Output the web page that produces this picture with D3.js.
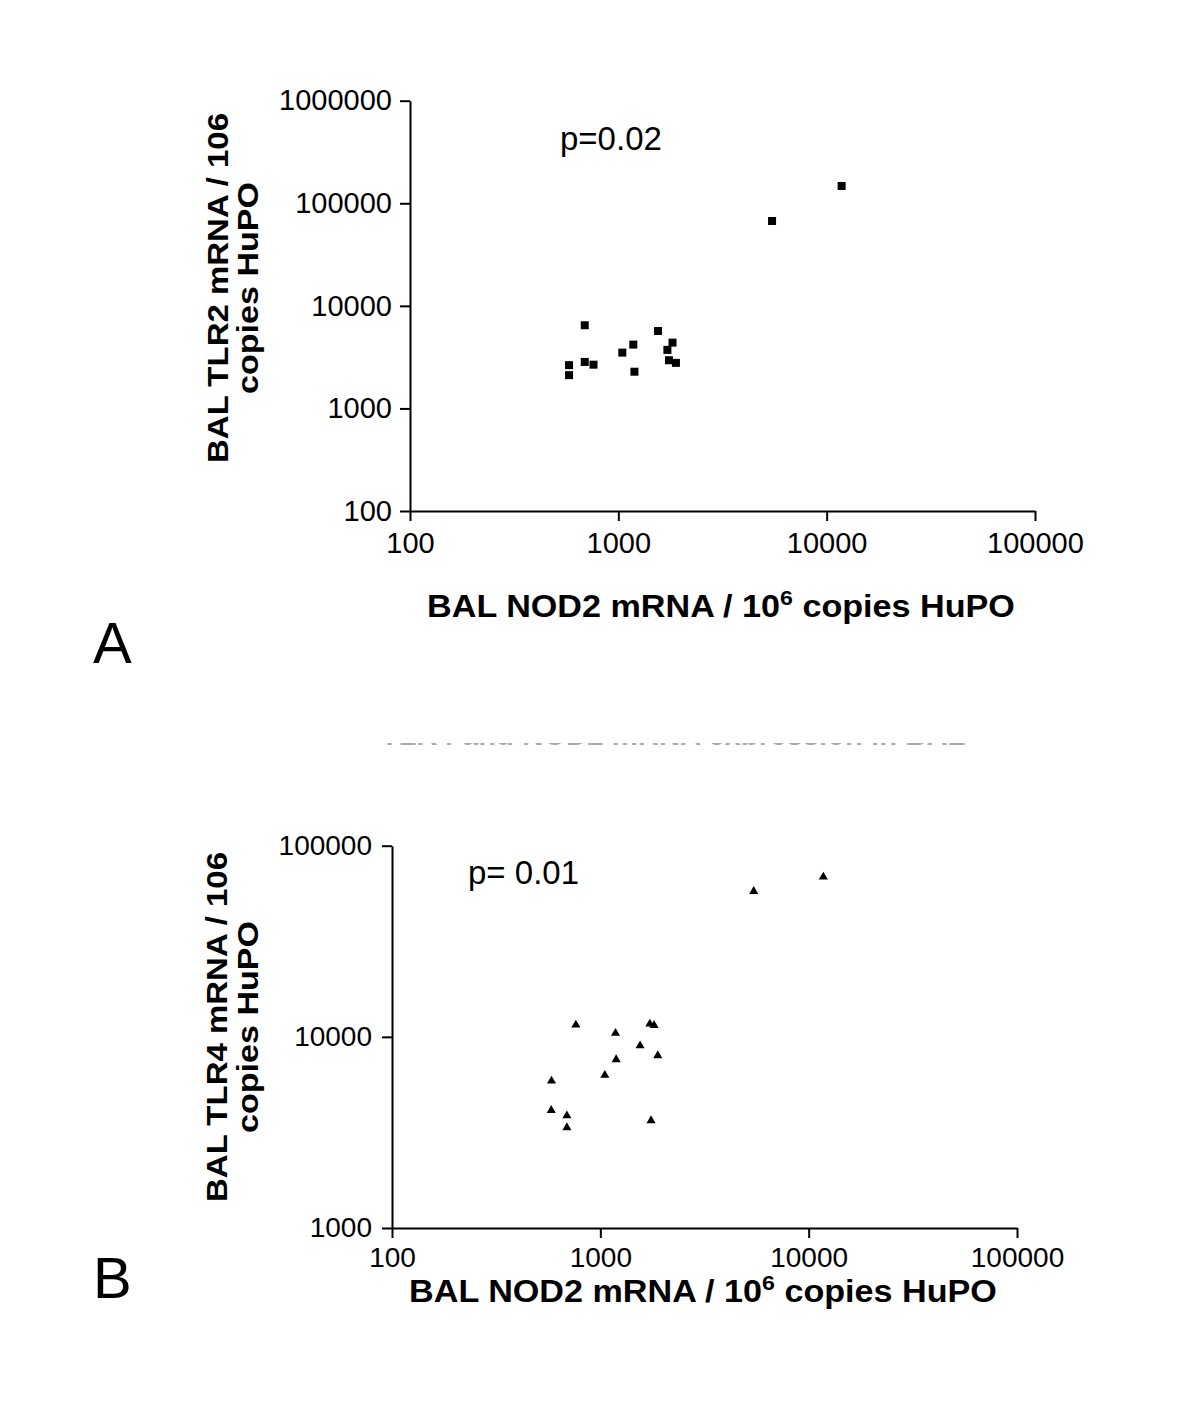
<!DOCTYPE html>
<html>
<head>
<meta charset="utf-8">
<script src="https://cdn.jsdelivr.net/npm/d3@7"></script>
<style>
  body { margin: 0; background: #fff; }
  svg text { font-family: "Liberation Sans", Arial, sans-serif; fill: #000; }
  .axis path, .axis line { stroke: #000; stroke-width: 2; }
</style>
</head>
<body>
<div id="chart"></div>
<script>
// panel A: NOD2 vs TLR2
const nod2A = [690, 1550, 1820, 1180, 1045, 1720, 580, 690, 760, 1750, 1890, 1195, 580, 11800, 5470];
const tlr2 = [6470, 5690, 4380, 4190, 3500, 3720, 2640, 2840, 2670, 2950, 2780, 2280, 2110, 147500, 67200];

// panel B: NOD2 vs TLR4
const nod2B = [763, 1183, 1728, 1811, 1552, 1887, 1191, 1051, 583, 581, 691, 691, 1752, 5449, 11760];
const tlr4 = [11540, 10450, 11680, 11500, 8990, 7980, 7600, 6300, 5880, 4130, 3870, 3350, 3650, 57700, 68600];

const xTicks = [100, 1000, 10000, 100000];
const yTicksA = [100, 1000, 10000, 100000, 1000000];
const yTicksB = [1000, 10000, 100000];

const svg = d3.select("#chart")
  .append("svg")
  .attr("width", 1200)
  .attr("height", 1418);

// stretch a text so that it spans the given width
function fitText(sel, cx, cy, rot, width) {
  const w = sel.node().getBBox().width;
  const s = width / w;
  sel.attr("transform", `translate(${cx},${cy}) rotate(${rot}) scale(${s},1)`);
}

class ScatterPanel {
  constructor(_config, _xVals, _yVals) {
    this.config = _config;
    this.data = _xVals.map((x, i) => ({ x: x, y: _yVals[i] }));
    this.initVis();
  }

  initVis() {
    let vis = this;
    const c = vis.config;

    vis.xScale = d3.scaleLog().domain([100, 100000]).range([c.left, c.left + c.width]);
    vis.yScale = d3.scaleLog().domain(c.yDomain).range([c.top + c.height, c.top]);

    const xAxis = d3.axisBottom(vis.xScale)
      .tickValues(xTicks)
      .tickFormat(d3.format("d"))
      .tickSizeInner(10)
      .tickSizeOuter(0)
      .tickPadding(c.xPad);

    const yAxis = d3.axisLeft(vis.yScale)
      .tickValues(c.yTicks)
      .tickFormat(d3.format("d"))
      .tickSizeInner(10)
      .tickSizeOuter(0)
      .tickPadding(c.yPad);

    const gx = svg.append("g")
      .attr("class", "axis")
      .attr("transform", `translate(0,${c.top + c.height})`)
      .call(xAxis)
      .attr("font-size", null)
      .attr("font-family", null);
    gx.selectAll("text").style("font-size", c.tickFont + "px");

    const gy = svg.append("g")
      .attr("class", "axis")
      .attr("transform", `translate(${c.left},0)`)
      .call(yAxis)
      .attr("font-size", null)
      .attr("font-family", null);
    gy.selectAll("text").style("font-size", c.tickFont + "px");

    svg.append("g")
      .selectAll("path")
      .data(vis.data)
      .join("path")
      .attr("d", d3.symbol().type(c.symbol).size(c.symbolSize))
      .attr("transform", d => `translate(${vis.xScale(d.x)},${vis.yScale(d.y)})`)
      .attr("fill", "#000");

    // p value
    svg.append("text")
      .attr("x", c.pX)
      .attr("y", c.pY)
      .style("font-size", "33px")
      .text(c.pText);

    // x title with superscript
    const xt = svg.append("text")
      .attr("text-anchor", "middle")
      .style("font-size", "31px")
      .style("font-weight", "bold");
    xt.append("tspan").text("BAL NOD2 mRNA / 10");
    xt.append("tspan").attr("dy", -12).style("font-size", "21px").text("6");
    xt.append("tspan").attr("dy", 12).text(" copies HuPO");
    fitText(xt, c.xTitleX, c.xTitleY, 0, c.xTitleW);

    // y title, two lines
    c.yTitle.forEach((line, i) => {
      const t = svg.append("text")
        .attr("text-anchor", "middle")
        .style("font-size", "29px")
        .style("font-weight", "bold")
        .text(line);
      fitText(t, c.yTitleX[i], c.yTitleY, -90, c.yTitleW[i]);
    });

    // panel letter
    svg.append("text")
      .attr("x", c.letterX)
      .attr("y", c.letterY)
      .style("font-size", "58px")
      .text(c.letter);
  }
}

new ScatterPanel({
  left: 410, top: 100.7, width: 625, height: 410.3,
  yDomain: [100, 1000000], yTicks: yTicksA,
  tickFont: 29, xPad: 11, yPad: 8,
  symbol: d3.symbolSquare, symbolSize: 64,
  pText: "p=0.02", pX: 560, pY: 150,
  xTitleX: 721, xTitleY: 617, xTitleW: 588,
  yTitle: ["BAL TLR2 mRNA / 106", "copies HuPO"],
  yTitleX: [228, 258], yTitleY: 288, yTitleW: [350, 212],
  letter: "A", letterX: 93, letterY: 663
}, nod2A, tlr2);

new ScatterPanel({
  left: 392, top: 845.7, width: 625, height: 382.3,
  yDomain: [1000, 100000], yTicks: yTicksB,
  tickFont: 28, xPad: 9, yPad: 10,
  symbol: d3.symbolTriangle, symbolSize: 36,
  pText: "p= 0.01", pX: 468, pY: 884,
  xTitleX: 703, xTitleY: 1302, xTitleW: 588,
  yTitle: ["BAL TLR4 mRNA / 106", "copies HuPO"],
  yTitleX: [227, 258], yTitleY: 1027, yTitleW: [350, 212],
  letter: "B", letterX: 93, letterY: 1298
}, nod2B, tlr4);

// remnant of a cut-off title between the panels: only the foot of the letters shows
svg.append("clipPath")
  .attr("id", "cut")
  .append("rect")
  .attr("x", 0).attr("y", 743)
  .attr("width", 1200).attr("height", 2);

const cut = svg.append("g")
  .attr("clip-path", "url(#cut)")
  .append("text")
  .style("font-size", "31px")
  .style("font-weight", "bold")
  .style("fill", "#aaa")
  .attr("text-anchor", "middle")
  .text("TLR4 and NOD2 mRNA expression in BAL");
fitText(cut, 673, 745, 0, 585);
</script>
</body>
</html>
